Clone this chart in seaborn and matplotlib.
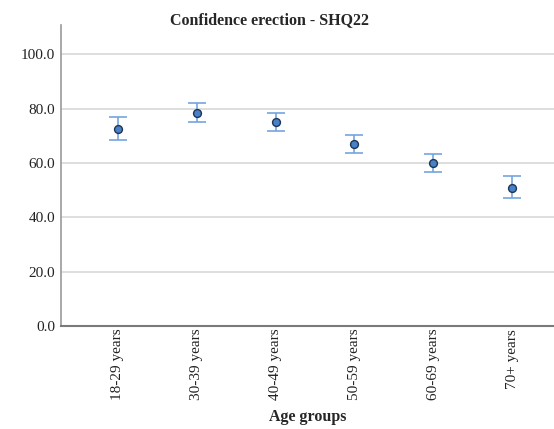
import numpy as np
import pandas as pd
import matplotlib
matplotlib.use("Agg")
import matplotlib.pyplot as plt
import seaborn as sns

# values
age_groups = ["18-29 years", "30-39 years", "40-49 years", "50-59 years", "60-69 years", "70+ years"]
mean_score = [72.6, 78.6, 75.2, 67.2, 60.1, 51.0]
ci_low = [68.4, 75.2, 71.8, 63.9, 56.9, 47.0]
ci_high = [76.9, 82.2, 78.5, 70.4, 63.5, 55.1]
y_ticks = [0, 20, 40, 60, 80, 100]

df = pd.DataFrame({"group": age_groups, "mean": mean_score, "lo": ci_low, "hi": ci_high})

sns.set_style("white")
plt.rcParams["font.family"] = ["Liberation Serif", "DejaVu Serif"]

fig = plt.figure(figsize=(5.54, 4.29), dpi=100)
ax = fig.add_axes([0.110, 0.240, 0.890, 0.702])

ax.grid(axis="y", color="#d4d4d4", linewidth=1.1)
ax.set_axisbelow(True)

yerr = np.array([df["mean"] - df["lo"], df["hi"] - df["mean"]])
ax.errorbar(df["group"], df["mean"], yerr=yerr, fmt="none", ecolor="#74a4de",
            elinewidth=1.2, capsize=6.5, capthick=1.2, zorder=2)
sns.scatterplot(data=df, x="group", y="mean", ax=ax, color="#4a80c4",
                edgecolor="#1d3557", linewidth=1.0, s=32, zorder=3)

ax.set_ylim(0, 110.9)
ax.set_xlim(-0.72, 5.53)
ax.set_yticks(y_ticks)
ax.set_yticklabels([f"{v:.1f}" for v in y_ticks], fontsize=11)
ax.set_xticks(range(len(age_groups)))
ax.set_xticklabels(age_groups, rotation=90, fontsize=11)
ax.tick_params(axis="y", length=0, pad=4, colors="#222222")
ax.tick_params(axis="x", length=0, pad=2, colors="#222222")

for s in ["top", "right"]:
    ax.spines[s].set_visible(False)
ax.spines["left"].set_color("#9a9a9a")
ax.spines["left"].set_linewidth(1.2)
ax.spines["bottom"].set_color("#7a7a7a")
ax.spines["bottom"].set_linewidth(1.5)

ax.set_xlabel("Age groups", fontsize=11.5, fontweight="bold", labelpad=6)
ax.set_ylabel("")
fig.text(0.487, 0.952, "Confidence erection - SHQ22", ha="center", va="center",
         fontsize=11.5, fontweight="bold")

plt.savefig("out.png", dpi=100)
